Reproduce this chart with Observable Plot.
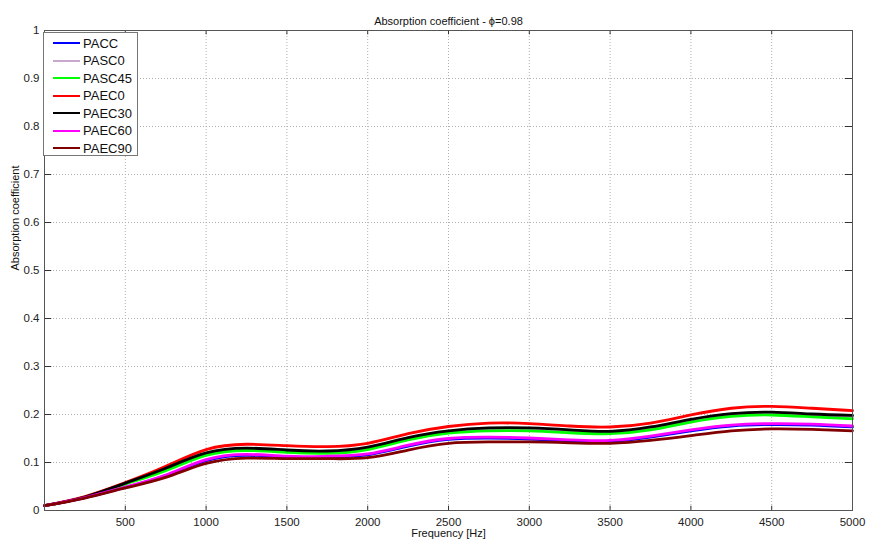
<!DOCTYPE html>
<html>
<head>
<meta charset="utf-8">
<script src="https://cdn.jsdelivr.net/npm/d3@7"></script>
<script src="https://cdn.jsdelivr.net/npm/@observablehq/plot@0.6"></script>
<style>
  body { margin: 0; background: #fff; }
  #wrap { position: relative; width: 869px; height: 545px; font-family: "Liberation Sans", Arial, sans-serif; }
  #legend { position: absolute; left: 43px; top: 32px; width: 95px; height: 124px; background: #fff; border: 1px solid #777; box-sizing: border-box; }
  #legend .row { position: absolute; left: 0; height: 16px; display: flex; align-items: center; font-size: 13px; color: #111; }
  #legend .sw { width: 27px; height: 0; border-top: 2.6px solid; margin-left: 9px; margin-right: 3px; }
</style>
</head>
<body>
<div id="wrap"></div>
<script>
const freq = [0, 250, 500, 750, 1000, 1250, 1500, 1750, 2000, 2250, 2500, 2750, 3000, 3250, 3500, 3750, 4000, 4250, 4500, 4750, 5000];
const PACC   = [0.010, 0.027, 0.048, 0.073, 0.104, 0.115, 0.111, 0.111, 0.116, 0.134, 0.148, 0.151, 0.149, 0.145, 0.144, 0.153, 0.166, 0.176, 0.179, 0.178, 0.174];
const PASC0  = [0.010, 0.028, 0.056, 0.086, 0.118, 0.128, 0.124, 0.122, 0.130, 0.150, 0.164, 0.169, 0.169, 0.165, 0.163, 0.171, 0.188, 0.200, 0.202, 0.198, 0.195];
const PASC45 = [0.010, 0.028, 0.055, 0.083, 0.115, 0.125, 0.121, 0.119, 0.127, 0.147, 0.161, 0.166, 0.166, 0.162, 0.160, 0.168, 0.184, 0.196, 0.199, 0.195, 0.191];
const PAEC0  = [0.010, 0.029, 0.058, 0.092, 0.127, 0.138, 0.135, 0.133, 0.140, 0.160, 0.175, 0.182, 0.181, 0.176, 0.174, 0.182, 0.199, 0.213, 0.217, 0.213, 0.208];
const PAEC30 = [0.010, 0.028, 0.057, 0.088, 0.120, 0.130, 0.126, 0.124, 0.132, 0.152, 0.166, 0.172, 0.172, 0.168, 0.165, 0.174, 0.190, 0.202, 0.205, 0.201, 0.198];
const PAEC60 = [0.010, 0.027, 0.049, 0.074, 0.106, 0.117, 0.113, 0.113, 0.118, 0.136, 0.150, 0.153, 0.151, 0.147, 0.146, 0.155, 0.168, 0.178, 0.181, 0.180, 0.176];
const PAEC90 = [0.010, 0.026, 0.047, 0.069, 0.098, 0.109, 0.108, 0.108, 0.110, 0.126, 0.140, 0.143, 0.143, 0.141, 0.140, 0.146, 0.156, 0.166, 0.170, 0.169, 0.166];

const seriesNames = ["PACC", "PASC0", "PASC45", "PAEC0", "PAEC30", "PAEC60", "PAEC90"];
const seriesValues = [PACC, PASC0, PASC45, PAEC0, PAEC30, PAEC60, PAEC90];
const seriesColors = ["#0000ff", "#c8a8cc", "#00ff00", "#ff0000", "#000000", "#ff00ff", "#800000"];

const xTicks = [500, 1000, 1500, 2000, 2500, 3000, 3500, 4000, 4500, 5000];
const yTicks = [0, 0.1, 0.2, 0.3, 0.4, 0.5, 0.6, 0.7, 0.8, 0.9, 1];
const yTickLabels = ["0", "0.1", "0.2", "0.3", "0.4", "0.5", "0.6", "0.7", "0.8", "0.9", "1"];

const titleText = "Absorption coefficient - \u03d5=0.98";
const xLabel = "Frequency [Hz]";
const yLabel = "Absorption coefficient";

const data = seriesNames.flatMap((s, i) => freq.map((f, j) => ({series: s, freq: f, value: seriesValues[i][j]})));

const gridStyle = {stroke: "#b0b0b0", strokeOpacity: 1, strokeWidth: 1, strokeDasharray: "1,2"};
const tickStyle = {stroke: "#333", strokeWidth: 1};

const chart = Plot.plot({
  width: 869,
  height: 545,
  marginLeft: 44,
  marginRight: 17,
  marginTop: 30,
  marginBottom: 35,
  style: {fontFamily: "'Liberation Sans', Arial, sans-serif", background: "#fff"},
  x: {domain: [0, 5000]},
  y: {domain: [0, 1]},
  color: {domain: seriesNames, range: seriesColors},
  marks: [
    Plot.ruleX(xTicks.slice(0, -1), {...gridStyle}),
    Plot.ruleY(yTicks.slice(1, -1), {...gridStyle}),
    Plot.ruleX(xTicks, {y1: 0, y2: 0.009, ...tickStyle}),
    Plot.ruleX(xTicks, {y1: 0.991, y2: 1, ...tickStyle}),
    Plot.ruleY(yTicks, {x1: 0, x2: 45, ...tickStyle}),
    Plot.ruleY(yTicks, {x1: 4955, x2: 5000, ...tickStyle}),
    Plot.line(data, {x: "freq", y: "value", z: "series", stroke: "series", strokeWidth: 2.8, curve: "natural"}),
    Plot.frame({stroke: "#555", strokeWidth: 1}),
    Plot.axisX(xTicks, {tickSize: 0, tickPadding: 7, fontSize: 11.5, fill: "#222", label: null, tickFormat: d3.format("d")}),
    Plot.axisY(yTicks, {tickSize: 0, tickPadding: 5, fontSize: 11.5, fill: "#222", label: null, tickFormat: (d) => yTickLabels[yTicks.indexOf(d)]}),
    Plot.text([xLabel], {frameAnchor: "bottom", dy: 26, fontSize: 11, fill: "#111"}),
    Plot.text([yLabel], {frameAnchor: "left", dx: -29, rotate: -90, fontSize: 11, fill: "#111"}),
    Plot.text([titleText], {frameAnchor: "top", dy: -13, fontSize: 11, fill: "#111"})
  ]
});

const wrap = document.getElementById("wrap");
wrap.appendChild(chart);

const legend = document.createElement("div");
legend.id = "legend";
seriesNames.forEach((s, i) => {
  const row = document.createElement("div");
  row.className = "row";
  row.style.top = (2 + i * 17.5) + "px";
  const sw = document.createElement("span");
  sw.className = "sw";
  sw.style.borderTopColor = seriesColors[i];
  const t = document.createElement("span");
  t.textContent = s;
  row.appendChild(sw);
  row.appendChild(t);
  legend.appendChild(row);
});
wrap.appendChild(legend);
</script>
</body>
</html>
